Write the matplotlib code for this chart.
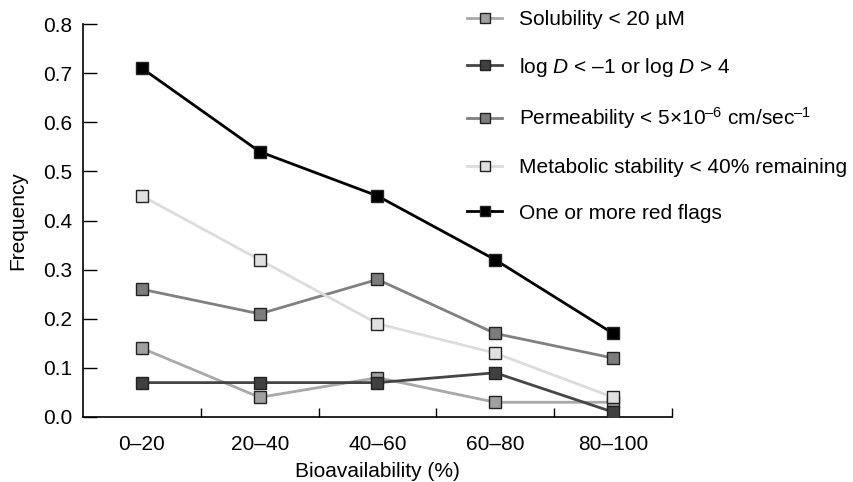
import matplotlib
matplotlib.use("Agg")
import matplotlib.pyplot as plt
from matplotlib.ticker import FixedLocator, NullFormatter

plt.rcParams["font.family"] = ["Liberation Sans", "DejaVu Sans"]
plt.rcParams["mathtext.fontset"] = "custom"
plt.rcParams["mathtext.rm"] = "Liberation Sans"
plt.rcParams["mathtext.it"] = "Liberation Sans:italic"
plt.rcParams["mathtext.bf"] = "Liberation Sans:bold"

categories = ["0–20", "20–40", "40–60", "60–80", "80–100"]

solubility = [0.14, 0.04, 0.08, 0.03, 0.03]
log_d = [0.07, 0.07, 0.07, 0.09, 0.01]
permeability = [0.26, 0.21, 0.28, 0.17, 0.12]
metabolic = [0.45, 0.32, 0.19, 0.13, 0.04]
red_flags = [0.71, 0.54, 0.45, 0.32, 0.17]

series = [
    ("Solubility < 20 µM", solubility, "#a9a9a9", "#a0a0a0"),
    (r"log $\mathit{D}$ < –1 or log $\mathit{D}$ > 4", log_d, "#454545", "#404040"),
    (r"Permeability < 5×10$^{–6}$ cm/sec$^{–1}$", permeability, "#808080", "#7c7c7c"),
    ("Metabolic stability < 40% remaining", metabolic, "#dcdcdc", "#e0e0e0"),
    ("One or more red flags", red_flags, "#000000", "#000000"),
]

FS = 15

fig = plt.figure(figsize=(8.54, 4.82), dpi=100)
ax = fig.add_axes([83 / 854, 65 / 482, 589 / 854, 393 / 482])

x = list(range(len(categories)))
for label, vals, lc, mc in series:
    ax.plot(x, vals, color=lc, lw=2.0, marker="s", markersize=8.5,
            markerfacecolor=mc, markeredgecolor="#222222", markeredgewidth=1.0,
            label=label, zorder=3)

ax.set_xlim(-0.5, 4.5)
ax.set_ylim(0, 0.8)
ax.set_yticks([0.0, 0.1, 0.2, 0.3, 0.4, 0.5, 0.6, 0.7, 0.8])
ax.set_yticklabels(["0.0", "0.1", "0.2", "0.3", "0.4", "0.5", "0.6", "0.7", "0.8"])
ax.set_xticks(x)
ax.set_xticklabels(categories)
ax.xaxis.set_minor_locator(FixedLocator([0.5, 1.5, 2.5, 3.5, 4.5]))
ax.xaxis.set_minor_formatter(NullFormatter())

ax.tick_params(axis="x", which="major", length=0, pad=13, labelsize=FS)
ax.tick_params(axis="x", which="minor", direction="in", length=6.5, width=1.0)
ax.tick_params(axis="y", direction="in", length=10, width=1.0, pad=8, labelsize=FS)

for s in ("top", "right"):
    ax.spines[s].set_visible(False)
for s in ("left", "bottom"):
    ax.spines[s].set_linewidth(1.2)

ax.set_xlabel("Bioavailability (%)", fontsize=FS, labelpad=6)
ax.set_ylabel("Frequency", fontsize=FS, labelpad=11)

fig.legend(loc="upper left", bbox_to_anchor=(467 / 854, 1 - 10 / 482),
           frameon=False, fontsize=FS, handlelength=1.7, handletextpad=0.8,
           labelspacing=1.28, borderpad=0, borderaxespad=0, markerscale=0.85)

fig.savefig("out.png", dpi=100)
